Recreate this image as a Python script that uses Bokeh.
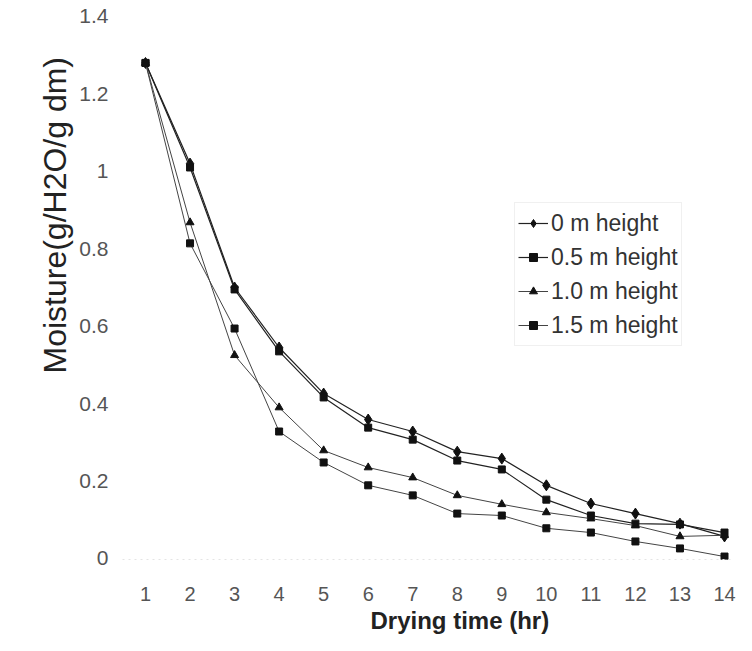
from bokeh.plotting import figure
from bokeh.models import Range1d, FixedTicker, Legend, LegendItem, Title, LinearAxis
from bokeh.embed import file_html
from bokeh.resources import INLINE

# ---- data ----
hours = [1, 2, 3, 4, 5, 6, 7, 8, 9, 10, 11, 12, 13, 14]
h_0m = [1.28, 1.02, 0.70, 0.545, 0.426, 0.359, 0.328, 0.276, 0.258, 0.189, 0.142, 0.116, 0.090, 0.057]
h_05m = [1.28, 1.01, 0.695, 0.535, 0.416, 0.338, 0.307, 0.253, 0.230, 0.152, 0.111, 0.090, 0.088, 0.067]
h_10m = [1.28, 0.868, 0.525, 0.390, 0.279, 0.235, 0.209, 0.163, 0.140, 0.119, 0.103, 0.085, 0.057, 0.060]
h_15m = [1.28, 0.814, 0.594, 0.328, 0.248, 0.189, 0.163, 0.116, 0.111, 0.078, 0.067, 0.044, 0.026, 0.005]
series_names = ["0 m height", "0.5 m height", "1.0 m height", "1.5 m height"]
y_ticks = [0, 0.2, 0.4, 0.6, 0.8, 1.0, 1.2, 1.4]
y_tick_labels = ["0", "0.2", "0.4", "0.6", "0.8", "1", "1.2", "1.4"]
x_tick_labels = [str(h) for h in hours]
x_title = "Drying time (hr)"
y_title = "Moisture(g/H2O/g dm)"

FONT = "Liberation Sans"

p = figure(width=736, height=635, output_backend="svg", toolbar_location=None,
           x_range=Range1d(0.4836, 14.2245), y_range=Range1d(-0.0026, 1.4103),
           min_border_left=122, min_border_right=2, min_border_top=12, min_border_bottom=76)
p.outline_line_color = None
p.xgrid.grid_line_color = None
p.ygrid.grid_line_color = None
p.background_fill_color = "white"

for ax in (p.xaxis[0], p.yaxis[0]):
    ax.major_tick_line_color = None
    ax.minor_tick_line_color = None
    ax.major_label_text_font = FONT
    ax.major_label_text_font_size = "20px"
    ax.major_label_text_color = "#555555"
p.xaxis[0].axis_line_color = "#e4e4e4"
p.xaxis[0].axis_line_dash = "2 4"
p.yaxis[0].axis_line_color = None

p.xaxis[0].ticker = FixedTicker(ticks=hours)
p.xaxis[0].major_label_overrides = {h: s for h, s in zip(hours, x_tick_labels)}
p.xaxis[0].major_label_standoff = 21
p.yaxis[0].ticker = FixedTicker(ticks=y_ticks)
p.yaxis[0].major_label_overrides = {t: s for t, s in zip(y_ticks, y_tick_labels)}
p.yaxis[0].major_label_standoff = 8
p.yaxis[0].major_label_text_font_size = "21px"

# empty spacer axis between the tick labels and the y title
spacer = LinearAxis(ticker=FixedTicker(ticks=[]), axis_line_color=None,
                    major_tick_line_color=None, minor_tick_line_color=None,
                    major_tick_in=0, major_tick_out=37, minor_tick_out=0,
                    major_label_standoff=0)
p.add_layout(spacer, "left")

line_col = "#222222"
l0 = p.line(hours, h_0m, line_color=line_col, line_width=1.2)
m0 = p.scatter(hours, h_0m, marker="diamond", size=11, color="#111111")
l1 = p.line(hours, h_05m, line_color=line_col, line_width=1.2)
m1 = p.scatter(hours, h_05m, marker="square", size=7, color="#111111")
l2 = p.line(hours, h_10m, line_color="#444444", line_width=1)
m2 = p.scatter(hours, h_10m, marker="triangle", size=8, color="#111111")
l3 = p.line(hours, h_15m, line_color="#444444", line_width=1)
m3 = p.scatter(hours, h_15m, marker="square", size=7, color="#111111")

legend = Legend(items=[
    LegendItem(label=series_names[0], renderers=[l0, m0]),
    LegendItem(label=series_names[1], renderers=[l1, m1]),
    LegendItem(label=series_names[2], renderers=[l2, m2]),
    LegendItem(label=series_names[3], renderers=[l3, m3]),
], location=(392, 213))
legend.label_text_font = FONT
legend.label_text_font_size = "23px"
legend.label_text_color = "#333333"
legend.label_height = 34
legend.glyph_height = 20
legend.glyph_width = 30
legend.label_standoff = 3
legend.spacing = 0
legend.padding = 3
legend.margin = 0
legend.border_line_color = "#e2e2e2"
legend.background_fill_color = "white"
legend.background_fill_alpha = 1.0
p.add_layout(legend, "center")

p.add_layout(Title(text=y_title, align="left", offset=186, standoff=8,
                   text_font=FONT, text_font_size="32px", text_font_style="normal",
                   text_color="#222222"), "left")
p.add_layout(Title(text=x_title, align="left", offset=248, standoff=3,
                   text_font=FONT, text_font_size="24px", text_font_style="bold",
                   text_color="#222222"), "below")

open("out.html", "w").write(file_html(p, INLINE))
